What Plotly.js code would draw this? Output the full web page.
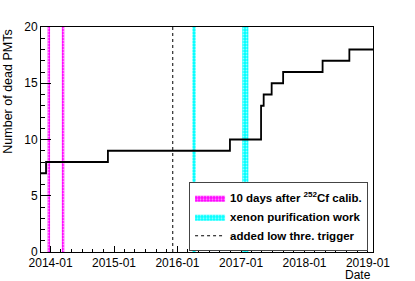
<!DOCTYPE html>
<html>
<head>
<meta charset="utf-8">
<script src="https://cdn.plot.ly/plotly-3.0.1.min.js"></script>
<style>
html,body{margin:0;padding:0;background:#fff;}
#chart{width:415px;height:281px;}
</style>
</head>
<body>
<div id="chart"></div>
<script>
// Step history of dead PMTs
var stepDates = ['2013-11-01','2013-12-06','2014-11-27','2016-10-29','2017-04-26','2017-05-11','2017-06-26','2017-08-31','2018-04-15','2018-09-16','2019-02-15'];
var deadPMTs  = [7, 8, 9, 10, 13, 14, 15, 16, 17, 18, 18];

// "10 days after 252Cf calib." periods
var calibStart = ['2013-12-15','2014-03-07'];
var calibEnd   = ['2013-12-29','2014-03-21'];

// xenon purification work periods
var xenonStart = ['2016-03-27','2017-01-08'];
var xenonEnd   = ['2016-04-15','2017-02-12'];

// added low threshold trigger
var triggerDate = '2015-12-05';

var yMin = 0, yMax = 20;
var tickVals = ['2014-01-01','2015-01-01','2016-01-01','2017-01-01','2018-01-01','2019-01-01'];
var tickText = ['2014-01','2015-01','2016-01','2017-01','2018-01','2019-01'];
var yTickVals = [0,5,10,15,20];

function bandPolys(starts, ends){
  var xs=[], ys=[];
  for (var i=0;i<starts.length;i++){
    if(i>0){xs.push(null);ys.push(null);}
    xs.push(starts[i],starts[i],ends[i],ends[i],starts[i]);
    ys.push(yMin,yMax,yMax,yMin,yMin);
  }
  return {x:xs,y:ys};
}
var cb = bandPolys(calibStart, calibEnd);
var xb = bandPolys(xenonStart, xenonEnd);

var font = 'Liberation Sans, Arial, Helvetica, sans-serif';

var traces = [
  {x:cb.x, y:cb.y, type:'scatter', mode:'lines', fill:'toself',
   fillcolor:'#ff00ff', line:{width:0, color:'#ff00ff'},
   fillpattern:{shape:'.', bgcolor:'#ff00ff', fgcolor:'#ff99ff', size:3, solidity:0.3},
   name:'10 days after <sup>252</sup>Cf calib.', hoverinfo:'skip'},
  {x:xb.x, y:xb.y, type:'scatter', mode:'lines', fill:'toself',
   fillcolor:'#00ffff', line:{width:0, color:'#00ffff'},
   fillpattern:{shape:'.', bgcolor:'#00ffff', fgcolor:'#99ffff', size:3, solidity:0.3},
   name:'xenon purification work', hoverinfo:'skip'},
  {x:[triggerDate, triggerDate], y:[yMin, yMax], type:'scatter', mode:'lines',
   line:{color:'black', width:1, dash:'dot'}, name:'added low thre. trigger'},
  {x:stepDates, y:deadPMTs, type:'scatter', mode:'lines',
   line:{color:'black', width:1.8, shape:'hv'}, showlegend:false}
];

var layout = {
  width:415, height:281,
  margin:{l:41, r:42, t:27, b:29},
  paper_bgcolor:'white', plot_bgcolor:'white',
  font:{family:font, size:12, color:'black'},
  showlegend:true,
  xaxis:{
    type:'date', range:['2013-11-07','2019-01-30'],
    tickvals:tickVals, ticktext:tickText,
    ticks:'inside', ticklen:6, tickcolor:'black', tickwidth:1,
    minor:{dtick:'M2', tick0:'2014-01-01', ticks:'inside', ticklen:3, tickcolor:'black', showgrid:false},
    showline:true, linecolor:'black', linewidth:1, mirror:true,
    showgrid:false, zeroline:false,
    tickfont:{family:font, size:12, color:'black'}
  },
  yaxis:{
    range:[yMin, yMax], tickvals:yTickVals,
    ticks:'inside', ticklen:10, tickcolor:'black', tickwidth:1,
    minor:{dtick:1, ticks:'inside', ticklen:4, tickcolor:'black', showgrid:false},
    showline:true, linecolor:'black', linewidth:1, mirror:true,
    showgrid:false, zeroline:false,
    tickfont:{family:font, size:12, color:'black'}
  },
  legend:{
    x:0.446, y:0.31, xanchor:'left', yanchor:'top',
    bgcolor:'white', bordercolor:'#444', borderwidth:1,
    font:{family:font, size:11.5, color:'black', weight:'bold'},
    tracegroupgap:0, itemwidth:30
  },
  annotations:[
    {text:'Number of dead PMTs', xref:'paper', yref:'paper', x:-0.1, y:0.996,
     xanchor:'center', yanchor:'top', textangle:-90, showarrow:false,
     font:{family:font, size:12.5, color:'black'}},
    {text:'Date', xref:'paper', yref:'paper', x:1, y:-0.064,
     xanchor:'right', yanchor:'top', showarrow:false,
     font:{family:font, size:12, color:'black'}}
  ]
};

Plotly.newPlot('chart', traces, layout, {staticPlot:true, displayModeBar:false});
</script>
</body>
</html>
